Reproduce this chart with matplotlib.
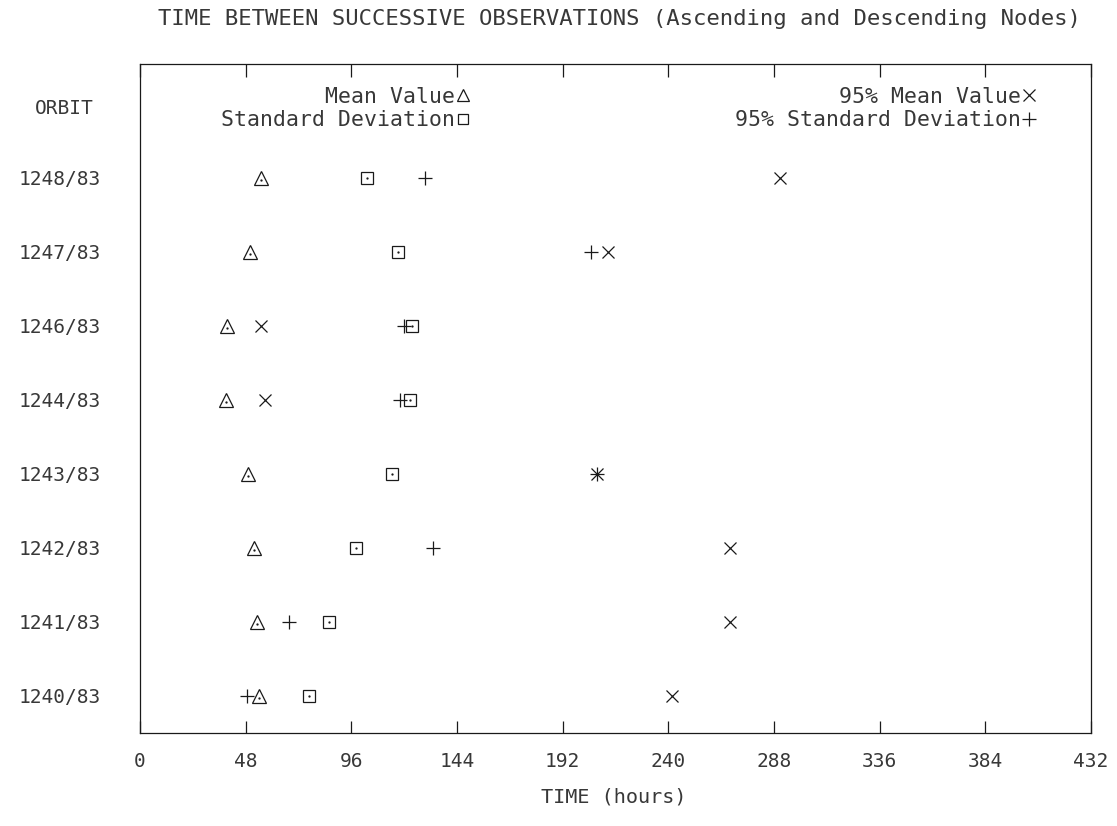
import matplotlib
matplotlib.use("Agg")
import matplotlib.pyplot as plt
from matplotlib.lines import Line2D

# ---------------- data ----------------
orbits = ["1240/83", "1241/83", "1242/83", "1243/83",
          "1244/83", "1246/83", "1247/83", "1248/83"]
mean_value = [54.0, 53.0, 52.0, 48.9, 38.9, 39.4, 49.8, 54.8]
std_dev = [76.7, 85.8, 98.0, 114.4, 122.6, 123.5, 117.0, 103.0]
mean_95 = [241.8, 267.8, 267.8, 207.7, 57.0, 54.8, 212.5, 290.5]
std_95 = [48.5, 67.6, 133.0, 207.7, 118.0, 120.0, 205.0, 129.4]
xticks = [0, 48, 96, 144, 192, 240, 288, 336, 384, 432]

FONT = "DejaVu Sans Mono"
INK = "#1a1a1a"
TXT = "#383838"
plt.rcParams["font.family"] = [FONT]

W, H = 1117, 826
L, R, T, B = 140, 1091, 64, 733
fig = plt.figure(figsize=(W / 100, H / 100), dpi=100)
ax = fig.add_axes([L / W, 1 - B / H, (R - L) / W, (B - T) / H])

ypos = list(range(len(orbits)))

open_kw = dict(linestyle="none", markerfacecolor="none", markeredgecolor=INK,
               markeredgewidth=0.9)
line_kw = dict(linestyle="none", color=INK, markeredgewidth=0.9)
ax.plot(mean_value, ypos, marker="^", markersize=10, **open_kw)
ax.plot(std_dev, ypos, marker="s", markersize=8, **open_kw)
# centre dots of triangle and square symbols
ax.plot(mean_value, [y - 0.03 for y in ypos], marker=".", markersize=1.5, **line_kw)
ax.plot(std_dev, ypos, marker=".", markersize=1.5, **line_kw)
ax.plot(mean_95, ypos, marker="x", markersize=9, **line_kw)
ax.plot(std_95, ypos, marker="+", markersize=10, **line_kw)

ax.set_xlim(0, 432)
ax.set_ylim(-0.5, 8.54)
ax.set_xticks(xticks)
ax.set_xticklabels([str(t) for t in xticks], fontsize=14, color=TXT)
ax.tick_params(axis="x", direction="in", length=9, width=0.9, color=INK,
               top=True, bottom=True, pad=14)
ax.set_yticks(ypos)
ax.set_yticklabels(orbits, fontsize=14, color=TXT)
ax.tick_params(axis="y", length=0, pad=28)
for sp in ax.spines.values():
    sp.set_linewidth(0.9)
    sp.set_color(INK)

leg_top = (B - 87) / (B - T)
# legends (markers at right of text, right aligned)
h1 = [Line2D([], [], marker="^", markersize=9, **open_kw),
      Line2D([], [], marker="s", markersize=7, **open_kw)]
leg1 = ax.legend(h1, ["Mean Value", "Standard Deviation"], markerfirst=False,
                 frameon=False, loc="upper right",
                 bbox_to_anchor=((472 - L) / (R - L), leg_top),
                 handlelength=0.8, handletextpad=0.0, labelspacing=0.16,
                 borderaxespad=0, borderpad=0,
                 prop={"family": FONT, "size": 15.5}, labelcolor=TXT)
ax.add_artist(leg1)
h2 = [Line2D([], [], marker="x", markersize=9, **line_kw),
      Line2D([], [], marker="+", markersize=10, **line_kw)]
ax.legend(h2, ["95% Mean Value", "95% Standard Deviation"], markerfirst=False,
          frameon=False, loc="upper right",
          bbox_to_anchor=((1038 - L) / (R - L), leg_top),
          handlelength=0.8, handletextpad=0.0, labelspacing=0.16,
          borderaxespad=0, borderpad=0,
          prop={"family": FONT, "size": 15.5}, labelcolor=TXT)

fig.text(64 / W, 1 - 108 / H, "ORBIT", fontsize=14, ha="center", va="center",
         color=TXT)
fig.text(619 / W, 1 - 19 / H,
         "TIME BETWEEN SUCCESSIVE OBSERVATIONS (Ascending and Descending Nodes)",
         fontsize=16, ha="center", va="center", color=TXT)
fig.text(614 / W, 1 - 797 / H, "TIME (hours)", fontsize=14.5, ha="center",
         va="center", color=TXT)

fig.savefig("out.png", dpi=100, facecolor="white")
